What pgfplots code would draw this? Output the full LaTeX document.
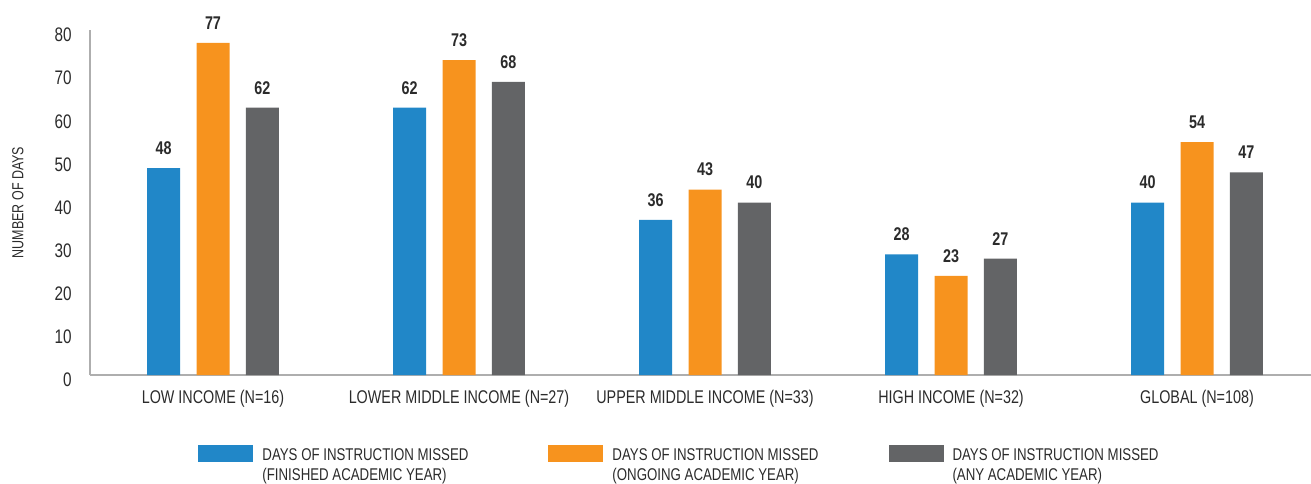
\documentclass[border=0pt]{standalone}
\usepackage{fontspec}
\setmainfont{Liberation Sans}[FakeStretch=0.78]
\usepackage{pgfplots}
\pgfplotsset{compat=1.18}

\definecolor{cblue}{HTML}{2187C8}
\definecolor{corange}{HTML}{F7931E}
\definecolor{cgray}{HTML}{636466}
\definecolor{caxis}{HTML}{AEAEAE}
\definecolor{ctext}{HTML}{2B2B2B}

\begin{document}
\begin{tikzpicture}
\begin{axis}[
  name=ax,
  scale only axis,
  width=610.5pt, height=172.5pt,
  ybar=8.15pt, bar width=16.5pt,
  xmin=-0.5, xmax=4.4634,
  ymin=0, ymax=80,
  ytick={0,10,...,80},
  xtick={0,1,2,3,4},
  xticklabels={LOW INCOME (N=16), LOWER MIDDLE INCOME (N=27), UPPER MIDDLE INCOME (N=33), HIGH INCOME (N=32), GLOBAL (N=108)},
  axis x line*=bottom, axis y line*=left,
  axis line style={caxis, line width=1pt, -},
  major tick length=0pt,
  /pgf/number format/assume math mode=true,
  tick label style={text=ctext},
  yticklabel style={font=\fontsize{9.8}{11}\selectfont, inner sep=0pt, xshift=-9pt, yshift=-2.5pt},
  xticklabel style={font=\fontsize{9.2}{10}\selectfont, inner sep=0pt, anchor=north, yshift=-7.5pt},
  ylabel={NUMBER OF DAYS},
  ylabel style={font=\fontsize{8}{9}\selectfont, text=ctext, at={(axis description cs:-0.059,0.5)}, anchor=center},
  nodes near coords,
  nodes near coords style={font=\bfseries\fontsize{9.2}{10}\selectfont, text=ctext, inner sep=0pt, anchor=south, yshift=6.5pt},
  point meta=y,
  legend columns=3,
  legend image code/.code={\fill (0pt,2pt) rectangle (27.5pt,10.5pt);},
  legend style={draw=none, fill=none, at={(axis description cs:0.0885,-0.2)}, anchor=north west,
    inner sep=0pt, font=\fontsize{8.5}{10}\selectfont, text=ctext,
    cells={anchor=west, align=left},
    /tikz/every odd column/.append style={column sep=2.5pt},
    /tikz/column 2/.style={column sep=38pt},
    /tikz/column 4/.style={column sep=33pt}},
  clip=false,
]
\addplot[fill=cblue, draw=none] coordinates {(0,48) (1,62) (2,36) (3,28) (4,40)};
\addlegendentry{{DAYS OF INSTRUCTION MISSED\\(FINISHED ACADEMIC YEAR)}}
\addplot[fill=corange, draw=none] coordinates {(0,77) (1,73) (2,43) (3,23) (4,54)};
\addlegendentry{{DAYS OF INSTRUCTION MISSED\\(ONGOING ACADEMIC YEAR)}}
\addplot[fill=cgray, draw=none] coordinates {(0,62) (1,68) (2,40) (3,27) (4,47)};
\addlegendentry{{DAYS OF INSTRUCTION MISSED\\(ANY ACADEMIC YEAR)}}
\end{axis}
\pgfresetboundingbox
\path ([xshift=-45pt,yshift=-54pt]ax.south west) rectangle ([yshift=15pt]ax.north east);
\end{tikzpicture}
\end{document}
